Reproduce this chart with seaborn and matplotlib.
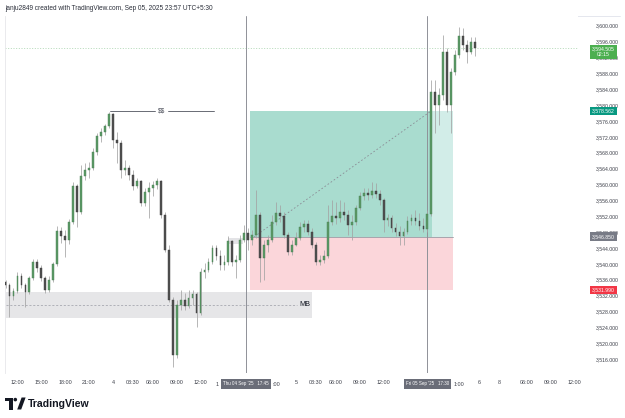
import numpy as np
import pandas as pd
import matplotlib
matplotlib.use("Agg")
import matplotlib.pyplot as plt
import matplotlib.transforms as mtransforms
from matplotlib.patches import Rectangle, Polygon, Circle
import seaborn as sns

# ---------------- data (30-minute XAUUSD candles, Sep 03 10:30 -> Sep 05 23:30 IST) ----------------
first_open = 3535.4
close = [3534.7, 3531.9, 3533.2, 3537.0, 3534.7, 3532.9, 3536.4, 3540.5, 3539.0, 3536.4,
         3533.4, 3535.9, 3540.0, 3548.3, 3547.0, 3546.0, 3550.6, 3559.6, 3553.1, 3562.1,
         3563.7, 3564.2, 3568.2, 3572.2, 3573.2, 3574.7, 3577.8, 3571.2, 3570.5, 3563.7,
         3564.2, 3562.4, 3559.6, 3560.9, 3555.3, 3558.1, 3559.1, 3559.9, 3560.9, 3552.3,
         3543.5, 3530.9, 3517.1, 3529.6, 3530.9, 3529.4, 3531.4, 3532.4, 3527.6, 3538.0,
         3538.5, 3540.5, 3544.0, 3542.0, 3539.7, 3540.5, 3545.8, 3540.5, 3541.0, 3546.0,
         3547.8, 3546.0, 3547.3, 3552.3, 3541.5, 3544.8, 3546.0, 3550.6, 3552.8, 3552.1,
         3547.3, 3543.0, 3544.8, 3546.5, 3549.3, 3550.1, 3548.0, 3544.8, 3540.5, 3541.0,
         3542.0, 3550.6, 3552.1, 3551.6, 3553.1, 3552.3, 3549.8, 3550.6, 3554.1, 3557.1,
         3557.9, 3557.4, 3558.4, 3557.6, 3556.1, 3551.1, 3551.6, 3549.0, 3548.0, 3547.0,
         3548.0, 3550.8, 3551.6, 3550.8, 3549.6, 3548.8, 3552.6, 3583.3, 3580.0, 3582.6,
         3593.4, 3580.0, 3588.3, 3592.6, 3597.4, 3595.1, 3593.4, 3595.9, 3594.505]
high = [3535.9, 3535.2, 3533.9, 3538.0, 3537.7, 3535.2, 3537.0, 3541.2, 3541.2, 3539.7,
        3537.0, 3537.0, 3540.5, 3549.6, 3549.3, 3548.5, 3551.3, 3560.6, 3560.1, 3564.9,
        3565.4, 3565.7, 3569.2, 3573.0, 3574.2, 3575.2, 3578.3, 3578.0, 3573.2, 3571.2,
        3566.2, 3564.9, 3563.7, 3561.6, 3561.1, 3559.1, 3560.6, 3560.9, 3561.6, 3561.1,
        3553.1, 3544.8, 3531.7, 3530.9, 3533.4, 3532.7, 3533.4, 3533.4, 3532.9, 3539.0,
        3540.2, 3541.5, 3544.8, 3544.8, 3543.5, 3542.2, 3547.0, 3546.0, 3542.2, 3547.3,
        3549.8, 3549.0, 3548.5, 3558.6, 3553.1, 3546.0, 3547.3, 3552.3, 3555.6, 3554.8,
        3553.1, 3548.0, 3546.0, 3548.0, 3550.6, 3551.1, 3551.1, 3549.0, 3545.5, 3542.2,
        3543.5, 3554.8, 3556.1, 3555.6, 3556.1, 3555.6, 3553.6, 3552.3, 3554.8, 3558.1,
        3559.1, 3559.1, 3560.6, 3560.4, 3558.6, 3556.6, 3552.6, 3552.3, 3550.3, 3549.6,
        3549.0, 3552.1, 3552.6, 3553.6, 3552.8, 3551.6, 3553.6, 3586.3, 3586.3, 3584.3,
        3597.7, 3594.4, 3589.4, 3593.9, 3599.7, 3599.4, 3596.4, 3597.2, 3597.2]
low = [3533.9, 3526.6, 3530.9, 3532.7, 3533.9, 3529.1, 3532.4, 3535.9, 3538.0, 3535.7,
       3532.7, 3532.9, 3535.4, 3539.5, 3545.3, 3541.7, 3545.0, 3550.1, 3549.3, 3552.6,
       3561.1, 3561.6, 3563.7, 3567.4, 3570.7, 3572.5, 3574.2, 3569.2, 3565.4, 3561.6,
       3562.4, 3561.1, 3558.6, 3559.1, 3554.6, 3554.6, 3551.6, 3557.1, 3558.9, 3551.6,
       3543.0, 3530.4, 3514.0, 3516.3, 3528.4, 3528.4, 3528.9, 3529.6, 3524.1, 3527.1,
       3536.4, 3538.0, 3540.0, 3541.0, 3538.5, 3538.5, 3539.7, 3539.5, 3536.4, 3540.5,
       3545.5, 3543.5, 3544.8, 3546.5, 3535.4, 3535.9, 3543.0, 3545.5, 3549.8, 3550.6,
       3546.5, 3542.2, 3542.2, 3544.5, 3546.0, 3548.0, 3547.3, 3544.0, 3539.7, 3539.7,
       3540.2, 3541.5, 3549.8, 3550.1, 3550.6, 3551.1, 3547.3, 3546.0, 3549.8, 3553.6,
       3556.1, 3556.1, 3556.6, 3556.6, 3554.8, 3548.0, 3549.6, 3548.0, 3547.0, 3544.8,
       3544.8, 3547.5, 3549.8, 3549.8, 3548.5, 3548.0, 3548.0, 3552.1, 3573.0, 3575.0,
       3581.3, 3578.3, 3573.0, 3587.6, 3591.9, 3593.9, 3590.6, 3592.9, 3592.4]

# time axis labels (bar index -> label); market break 02:30-03:30 and weekend are skipped
tick_bars = [3, 9, 15, 21, 27, 32, 37, 43, 49, 73, 78, 83, 89, 95, 119, 124, 131, 137, 143]
tick_labels = ["12:00", "15:00", "18:00", "21:00", "4", "03:30", "06:00", "09:00", "12:00",
               "5", "03:30", "06:00", "09:00", "12:00", "6", "8", "06:00", "09:00", "12:00"]
# fragments of labels that peek out from under the crosshair tooltips
frag_bars = [53.2, 68.1, 113.9]
frag_texts = ["1", ":00", "1:00"]
price_ticks = list(range(3516, 3601, 4))

# drawings
entry_price = 3546.85
target_price = 3578.562
stop_level = 3533.4          # where the stop edge is drawn
stop_label = "3,531.990"     # text shown on the axis
last_price = 3594.505
countdown = "02:15"
mb_top, mb_bottom, mb_mid = 3533.0, 3526.3, 3529.65
ss_level = 3578.5
vline_bars = [60.5, 106.0]
vline_texts = ["Thu 04 Sep '25   17:45", "Fri 05 Sep '25   17:30"]

# ---------------- build frame ----------------
opens = [first_open] + close[:-1]
df = pd.DataFrame({"open": opens, "high": high, "low": low, "close": close})
df["bar"] = np.arange(len(df))
df["up"] = df["close"] >= df["open"]
df["bottom"] = df[["open", "close"]].min(axis=1)
df["height"] = (df["close"] - df["open"]).abs().clip(lower=0.25)

sns.set_theme(style="white")
plt.rcParams["font.family"] = ["Liberation Sans", "DejaVu Sans"]

W, H = 625, 418
fig = plt.figure(figsize=(W / 100, H / 100), dpi=100)
fig.patch.set_facecolor("white")

L, R, T, B = 5, 578, 16, 373
ax = fig.add_axes([L / W, (H - B) / H, (R - L) / W, (B - T) / H])
ax.set_facecolor("white")
ax.set_xlim(-0.126, 143.84)
ax.set_ylim(3512.52, 3602.44)

# position tool zones
ax.fill_between([61.4, 107.1], entry_price, target_price, color="#a9dccf", lw=0, zorder=1)
ax.fill_between([107.1, 112.5], entry_price, target_price, color="#d2ede8", lw=0, zorder=1)
ax.fill_between([61.4, 112.5], stop_level, entry_price, color="#fbd6da", lw=0, zorder=1)
ax.plot([61.4, 112.5], [entry_price, entry_price], color="#9a9ca5", lw=0.6, zorder=1.5)
ax.plot([62.5, 107.0], [entry_price, target_price], color="#8a8d96", lw=0.6,
        ls=(0, (2, 2.5)), zorder=1.5)

# MB zone
ax.fill_between([0.1, 77.0], mb_bottom, mb_top, color="#e6e6e8", lw=0, zorder=1)
ax.plot([0.2, 73.2], [mb_mid, mb_mid], color="#9a9ca5", lw=0.5, ls=(0, (3, 2.5)), zorder=1.5)
ax.text(73.8, mb_mid, "MB", fontsize=5.2, color="#131722", va="center", ha="left", zorder=2)

# small box near Thu line
ax.fill_between([56.0, 59.7], 3545.0, 3546.6, color="#e3e3e6", lw=0, zorder=1)

# $$ line
ax.plot([26.3, 37.6], [ss_level, ss_level], color="#50535e", lw=0.6, zorder=1.5)
ax.plot([40.8, 52.4], [ss_level, ss_level], color="#50535e", lw=0.6, zorder=1.5)
ax.text(39.2, ss_level, "$$", fontsize=4.8, color="#50535e", va="center", ha="center",
        zorder=2, parse_math=False)

# last price line
ax.axhline(last_price, color="#a9d3ad", lw=0.6, ls=(0, (1.2, 2)), zorder=1.2)

# vertical time marker lines
for vb in vline_bars:
    ax.axvline(vb, color="#8f9198", lw=0.7, zorder=1.6)

# candles
ax.vlines(df["bar"], df["low"], df["high"], color="#a3a3a3", lw=0.55, zorder=3)
up = df[df["up"]]
dn = df[~df["up"]]
ax.bar(up["bar"], up["height"], bottom=up["bottom"], width=0.45, color="#5b9a66",
       edgecolor="#4a7f54", linewidth=0.3, zorder=4)
ax.bar(dn["bar"], dn["height"], bottom=dn["bottom"], width=0.45, color="#505050",
       edgecolor="#3d3d3d", linewidth=0.3, zorder=4)

# axes styling
for s in ["top", "right", "bottom"]:
    ax.spines[s].set_visible(False)
ax.spines["left"].set_color("#e6e7ea")
ax.spines["left"].set_linewidth(0.6)
ax.grid(False)

ax.set_xticks(tick_bars)
ax.set_xticklabels(tick_labels)
ax.tick_params(axis="x", length=0, pad=5, labelsize=3.9, labelcolor="#3b3e48")
ax.yaxis.tick_right()
ax.set_yticks(price_ticks)
ax.set_yticklabels([f"{v:,.3f}" for v in price_ticks])
ax.tick_params(axis="y", length=0, pad=12.5, labelsize=3.7, labelcolor="#3b3e48")

xtrans = mtransforms.blended_transform_factory(ax.transData, ax.transAxes)
lab_y = -(384 - B) / (B - T)
for fb, ft in zip(frag_bars, frag_texts):
    ax.text(fb, lab_y, ft, transform=xtrans, ha="center", va="center", fontsize=3.9,
            color="#3b3e48", clip_on=False)

# axis price labels (boxes)
ytrans = mtransforms.blended_transform_factory(ax.transAxes, ax.transData)
lab_x = (603.5 - L) / (R - L)
for val, col, txt, va in [
    (last_price, "#4caf50", f"{last_price:,.3f}\n{countdown}", "top"),
    (target_price, "#089981", f"{target_price:,.3f}", "center"),
    (entry_price, "#787b86", f"{entry_price:,.3f}", "center"),
    (stop_level, "#f23645", stop_label, "center"),
]:
    yv = val + (0.3 if va == "top" else 0.0)
    ax.text(lab_x, yv, txt, transform=ytrans, ha="center", va=va, fontsize=3.7,
            color="white", linespacing=1.1, clip_on=False, zorder=20,
            bbox=dict(boxstyle="square,pad=0.35", fc=col, ec="none"))

# time tooltips
for vb, txt in zip(vline_bars, vline_texts):
    ax.text(vb, lab_y, txt, transform=xtrans, ha="center", va="center",
            fontsize=3.25, color="white", clip_on=False, zorder=20,
            bbox=dict(boxstyle="square,pad=0.45", fc="#6a6d78", ec="none"))

# ---------------- overlay in pixel space: header, frame line, logo ----------------
ov = fig.add_axes([0, 0, 1, 1])
ov.set_xlim(0, W)
ov.set_ylim(H, 0)
ov.axis("off")
ov.patch.set_visible(False)
ov.set_zorder(-1)
ov.text(5, 8, "janju2849 created with TradingView.com, Sep 05, 2025 23:57 UTC+5:30",
        fontsize=4.7, color="#2a2e39", va="center", ha="left")
ov.plot([5, 620], [16, 16], color="#e0e3eb", lw=0.6)
logo_c = "#131722"
ov.add_patch(Rectangle((5, 397.5), 7.5, 3.6, fc=logo_c, ec="none"))
ov.add_patch(Rectangle((9, 397.5), 3.5, 12, fc=logo_c, ec="none"))
ov.add_patch(Circle((15.3, 399.6), 1.8, fc=logo_c, ec="none"))
ov.add_patch(Polygon([(17.2, 409.5), (21.6, 397.5), (25.6, 397.5), (21.2, 409.5)], closed=True,
                     fc=logo_c, ec="none"))
ov.text(28, 403.8, "TradingView", fontsize=7.6, fontweight="semibold", color=logo_c,
        va="center", ha="left")

fig.savefig("out.png", dpi=100, facecolor="white")
